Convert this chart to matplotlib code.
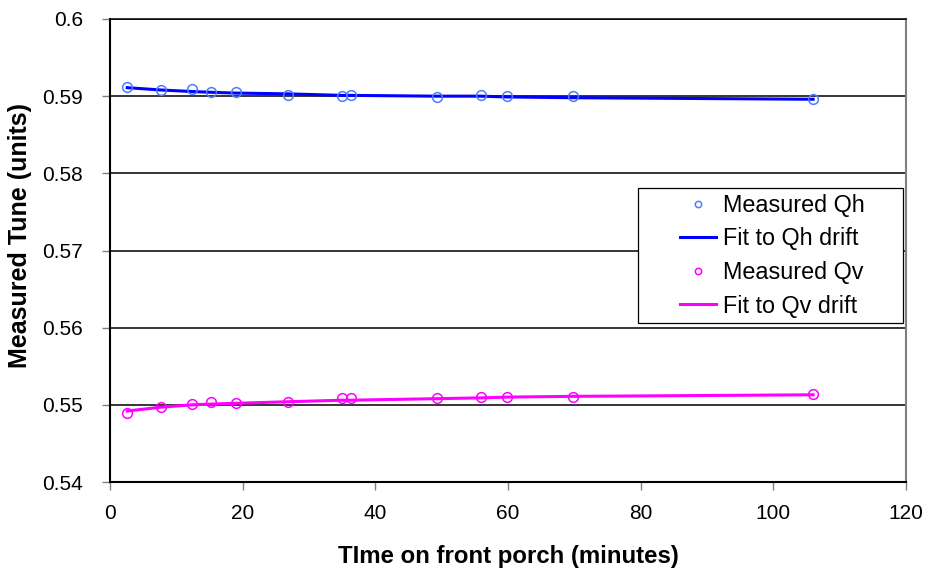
import matplotlib
matplotlib.use("Agg")
import matplotlib.pyplot as plt
from matplotlib.patches import Rectangle

plt.rcParams['font.family'] = ['Liberation Sans', 'DejaVu Sans']

# Time on the front porch (minutes)
time_min = [2.6, 7.7, 12.4, 15.3, 19.0, 26.8, 35.0, 36.3, 49.3, 55.9, 59.8, 69.8, 106.0]

# Horizontal tune: measurements and fitted drift
qh_measured = [0.5912, 0.5908, 0.5909, 0.5905, 0.5905, 0.5902, 0.5900, 0.5902,
               0.5899, 0.5902, 0.5900, 0.5900, 0.5896]
qh_fit = [0.5911, 0.5908, 0.5906, 0.5905, 0.5904, 0.5903, 0.5901, 0.5901,
          0.5900, 0.5900, 0.5899, 0.5898, 0.5896]

# Vertical tune: measurements and fitted drift
qv_measured = [0.5490, 0.5497, 0.5501, 0.5504, 0.5502, 0.5504, 0.5509, 0.5509,
               0.5509, 0.5510, 0.5510, 0.5510, 0.5514]
qv_fit = [0.5492, 0.5497, 0.5500, 0.5501, 0.5502, 0.5504, 0.5506, 0.5506,
          0.5508, 0.5509, 0.5510, 0.5511, 0.5513]

x_ticks = [0, 20, 40, 60, 80, 100, 120]
y_ticks = [0.54, 0.55, 0.56, 0.57, 0.58, 0.59, 0.60]
y_tick_labels = ['0.54', '0.55', '0.56', '0.57', '0.58', '0.59', '0.6']

W, H = 930, 569
fig = plt.figure(figsize=(W / 100, H / 100), dpi=100)
ax = fig.add_axes([110 / W, 1 - 482 / H, 796 / W, 463 / H])

for y in y_ticks:
    ax.axhline(y, color='black', lw=1.1, zorder=1)

ax.plot(time_min, qh_measured, linestyle='none', marker='o', ms=7,
        mfc='none', mec='#4d7dff', mew=1.1, label='Measured Qh', zorder=3)
ax.plot(time_min, qh_fit, color='#0000ff', lw=2.2, label='Fit to Qh drift', zorder=2)
ax.plot(time_min, qv_measured, linestyle='none', marker='o', ms=7,
        mfc='none', mec='#ff00ff', mew=1.1, label='Measured Qv', zorder=3)
ax.plot(time_min, qv_fit, color='#ff00ff', lw=2.2, label='Fit to Qv drift', zorder=2)

ax.set_xlim(0, 120)
ax.set_ylim(0.54, 0.60)
ax.set_xticks(x_ticks)
ax.set_yticks(y_ticks)
ax.set_yticklabels(y_tick_labels)
ax.tick_params(axis='both', direction='out', length=5.5, width=1, color='#808080',
               labelsize=15)
ax.tick_params(axis='x', pad=10)
ax.tick_params(axis='y', pad=14)

for side in ['left', 'bottom']:
    ax.spines[side].set_color('black')
    ax.spines[side].set_linewidth(1.5)
ax.spines['top'].set_color('black')
ax.spines['top'].set_linewidth(1.1)
ax.spines['right'].set_color('#808080')
ax.spines['right'].set_linewidth(1.5)

fig.text(508 / W, 1 - 556 / H, 'TIme on front porch (minutes)', fontsize=17.3,
         fontweight='bold', ha='center', va='center')
fig.text(20 / W, 1 - 235 / H, 'Measured Tune (units)', fontsize=18,
         fontweight='bold', ha='center', va='center', rotation=90)

# Legend box drawn in figure pixels, entries placed inside it without a frame
box = Rectangle((638 / W, 1 - 323 / H), 265 / W, 135 / H, transform=fig.transFigure,
                facecolor='white', edgecolor='black', lw=0.9, zorder=4)
fig.patches.append(box)
leg = fig.legend(*ax.get_legend_handles_labels(), loc='upper left',
                 bbox_to_anchor=(680 / W, 1 - 194 / H), borderaxespad=0,
                 borderpad=0, fontsize=16.8, frameon=False,
                 handlelength=1.55, handletextpad=0.3, labelspacing=0.45,
                 markerscale=0.65)
leg.set_zorder(5)

fig.savefig('out.png', dpi=100)
